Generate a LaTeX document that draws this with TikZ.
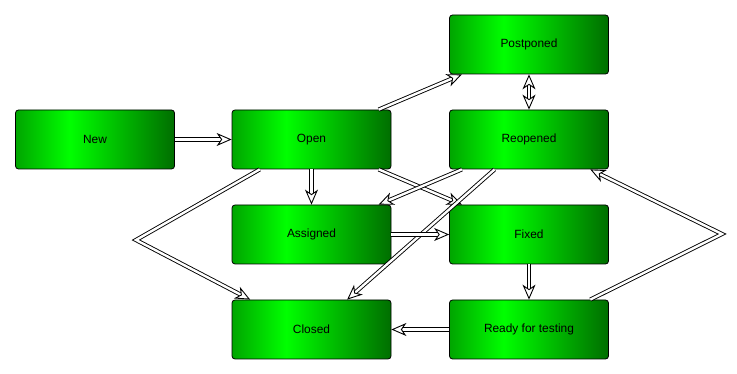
\documentclass[tikz,border=0pt]{standalone}
\usepackage{fontspec}
\setmainfont{Liberation Sans}
\usetikzlibrary{arrows.meta}
\definecolor{greenL}{RGB}{0,165,0}
\definecolor{greenM}{RGB}{0,255,0}
\definecolor{greenR}{RGB}{0,110,0}
\pgfdeclarehorizontalshading{boxgreen}{100bp}{color(0bp)=(greenL); color(25bp)=(greenL); color(42bp)=(greenM); color(75bp)=(greenR); color(100bp)=(greenR)}
\tikzset{
	state/.style={draw, line width=0.8pt, rounded corners=3pt, minimum width=159pt, minimum height=59pt, inner sep=0pt, shading=boxgreen, font=\fontsize{11.9}{14}\selectfont},
	tip/.style={Stealth[length=15pt, width=13pt, inset=4.5pt, fill=white]},
	flow/.style={double, double distance=2.4pt, line width=0.9pt, -{Stealth[length=15pt, width=13pt, inset=4.5pt, fill=white]}},
	twoway/.style={flow, {Stealth[length=15pt, width=13pt, inset=4.5pt, fill=white]}-{Stealth[length=15pt, width=13pt, inset=4.5pt, fill=white]}}
}

\begin{document}
\begin{tikzpicture}[x=1pt, y=-1pt]
	\useasboundingbox (0,0) rectangle (737,374);
	
	% --- States ---
	\node[state] (new) at (95,139.5) {New};
	\node[state] (open) at (311.5,139.5) {Open};
	\node[state] (postponed) at (529,44.5) {Postponed};
	\node[state] (reopened) at (529,139.5) {Reopened};
	\node[state] (assigned) at (311.5,234.5) {Assigned};
	\node[state] (fixed) at (529,234.5) {Fixed};
	\node[state] (closed) at (311.5,329.5) {Closed};
	\node[state] (ready) at (529,329.5) {Ready for testing};
	
	% Bend points
	\coordinate (bendL) at (136,240);
	\coordinate (bendR) at (722,234);
	
	% --- Transitions ---
	\draw[flow] (new) -- (open);
	\draw[flow] (open.24) -- (postponed.-156);
	\draw[twoway] (postponed) -- (reopened);
	\draw[flow] (open) -- (assigned);
	\draw[flow] (open.-24) -- (fixed.156);
	\draw[flow] (reopened.-156) -- (assigned.24);
	\draw[flow] (reopened.-139) -- (closed.40);
	\draw[flow] (open.-150) -- (bendL) -- (closed.154);
	\draw[flow] (assigned) -- (fixed);
	\draw[flow] (fixed) -- (ready);
	\draw[flow] (ready) -- (closed);
	\draw[flow] (ready.26) -- (bendR) -- (reopened.-26);
\end{tikzpicture}
\end{document}
